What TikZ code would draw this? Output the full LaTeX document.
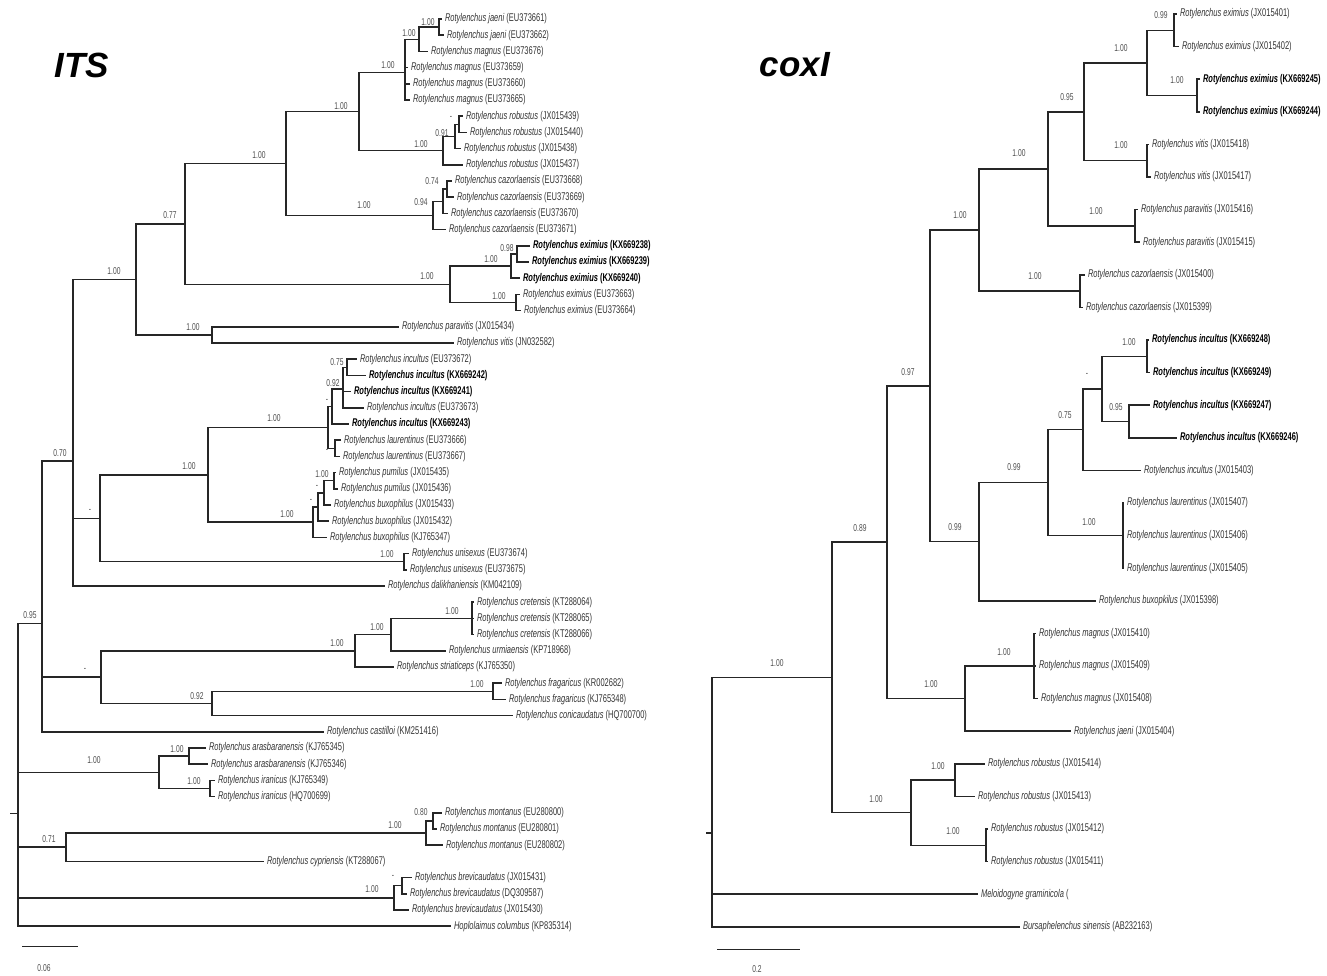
\documentclass[tikz,border=0pt]{standalone}
\usepackage{fontspec}
\setmainfont{Liberation Sans}
\newfontfamily\treefont{Liberation Sans}[FakeStretch=0.67]
\usepackage{tikz}
\def\spc#1#2{\textit{#1} (#2)}
\def\spb#1#2{{\color{black}\bfseries\textit{#1} (#2)}}
\tikzset{
	br/.style={line width=1.5pt, color=black!85},
	lf/.style={anchor=west, inner xsep=3pt, inner ysep=0pt, outer sep=0pt, text=black!80, font=\treefont\fontsize{11.2}{11.2}\selectfont},
	bs/.style={inner sep=0pt, text=black!70, font=\treefont\fontsize{10}{10}\selectfont},
	ttl/.style={font=\bfseries\itshape\fontsize{35}{35}\selectfont},
}

\begin{document}
\begin{tikzpicture}[x=1pt, y=-1pt]
		%%%%% START %%%%%
		\useasboundingbox (0,0) rectangle (1327,976);
		
		\node[ttl] (tits) at (82, 65) {ITS};
		\node[ttl] (tcox) at (795, 65) {coxI};
		
		%%%%% ITS %%%%%
		\coordinate (itick) at (10, 813.4);
		\coordinate (iroot) at (18, 813.4);
		\coordinate (i95) at (42, 623.4);
		\coordinate (i70) at (73, 461.2);
		\coordinate (ia100) at (136, 279.4);
		\coordinate (i77) at (185, 223.9);
		\coordinate (imrc) at (286, 163.5);
		\coordinate (imr) at (359, 111.6);
		\coordinate (imag) at (405, 72.7);
		\coordinate (ijm) at (419, 39.3);
		\coordinate (ija) at (439, 27.1);
		\coordinate (irob) at (443, 150.6);
		\coordinate (irb1) at (455, 136.5);
		\coordinate (irb2) at (459, 124.3);
		\coordinate (icaz) at (433, 215.4);
		\coordinate (icz1) at (443, 201.3);
		\coordinate (icz2) at (447, 189.1);
		\coordinate (iex1) at (450, 284.3);
		\coordinate (iex2) at (511, 266.1);
		\coordinate (iex3) at (517, 253.9);
		\coordinate (iex4) at (516, 302.5);
		\coordinate (ipv) at (212, 334.9);
		\coordinate (idash) at (100, 518.3);
		\coordinate (iib) at (208, 474.8);
		\coordinate (iinc) at (328, 427.4);
		\coordinate (iin1) at (332, 406.5);
		\coordinate (iin2) at (343, 388.9);
		\coordinate (iin3) at (347, 367.3);
		\coordinate (ilau) at (335, 448.3);
		\coordinate (ibux) at (313, 522.2);
		\coordinate (ibx1) at (318, 507);
		\coordinate (ibx2) at (324, 492.9);
		\coordinate (ipum) at (334, 480.7);
		\coordinate (iuni) at (404, 561.7);
		\coordinate (idash2) at (101, 677.1);
		\coordinate (ics) at (355, 650.8);
		\coordinate (icu) at (391, 634.6);
		\coordinate (icre) at (472, 618.4);
		\coordinate (i92) at (212, 703.5);
		\coordinate (ifra) at (493, 691.3);
		\coordinate (iai) at (159, 772.3);
		\coordinate (iar) at (189, 756.1);
		\coordinate (iir) at (210, 788.5);
		\coordinate (i71) at (66, 847.2);
		\coordinate (imo1) at (426, 833.1);
		\coordinate (imo2) at (433, 820.9);
		\coordinate (ibr1) at (394, 897.9);
		\coordinate (ibr2) at (402, 885.7);
		
		\node[lf] (i1) at (442, 19) {\spc{Rotylenchus jaeni}{EU373661}};
		\node[lf] (i2) at (444, 35.2) {\spc{Rotylenchus jaeni}{EU373662}};
		\node[lf] (i3) at (428, 51.4) {\spc{Rotylenchus magnus}{EU373676}};
		\node[lf] (i4) at (408, 67.6) {\spc{Rotylenchus magnus}{EU373659}};
		\node[lf] (i5) at (410, 83.8) {\spc{Rotylenchus magnus}{EU373660}};
		\node[lf] (i6) at (410, 100) {\spc{Rotylenchus magnus}{EU373665}};
		\node[lf] (i7) at (463, 116.2) {\spc{Rotylenchus robustus}{JX015439}};
		\node[lf] (i8) at (467, 132.4) {\spc{Rotylenchus robustus}{JX015440}};
		\node[lf] (i9) at (461, 148.6) {\spc{Rotylenchus robustus}{JX015438}};
		\node[lf] (i10) at (463, 164.8) {\spc{Rotylenchus robustus}{JX015437}};
		\node[lf] (i11) at (452, 181) {\spc{Rotylenchus cazorlaensis}{EU373668}};
		\node[lf] (i12) at (454, 197.2) {\spc{Rotylenchus cazorlaensis}{EU373669}};
		\node[lf] (i13) at (448, 213.4) {\spc{Rotylenchus cazorlaensis}{EU373670}};
		\node[lf] (i14) at (446, 229.6) {\spc{Rotylenchus cazorlaensis}{EU373671}};
		\node[lf] (i15) at (530, 245.8) {\spb{Rotylenchus eximius}{KX669238}};
		\node[lf] (i16) at (529, 262) {\spb{Rotylenchus eximius}{KX669239}};
		\node[lf] (i17) at (520, 278.2) {\spb{Rotylenchus eximius}{KX669240}};
		\node[lf] (i18) at (520, 294.4) {\spc{Rotylenchus eximius}{EU373663}};
		\node[lf] (i19) at (521, 310.6) {\spc{Rotylenchus eximius}{EU373664}};
		\node[lf] (i20) at (399, 326.8) {\spc{Rotylenchus paravitis}{JX015434}};
		\node[lf] (i21) at (454, 343) {\spc{Rotylenchus vitis}{JN032582}};
		\node[lf] (i22) at (357, 359.2) {\spc{Rotylenchus incultus}{EU373672}};
		\node[lf] (i23) at (366, 375.4) {\spb{Rotylenchus incultus}{KX669242}};
		\node[lf] (i24) at (351, 391.6) {\spb{Rotylenchus incultus}{KX669241}};
		\node[lf] (i25) at (364, 407.8) {\spc{Rotylenchus incultus}{EU373673}};
		\node[lf] (i26) at (349, 424) {\spb{Rotylenchus incultus}{KX669243}};
		\node[lf] (i27) at (341, 440.2) {\spc{Rotylenchus laurentinus}{EU373666}};
		\node[lf] (i28) at (340, 456.4) {\spc{Rotylenchus laurentinus}{EU373667}};
		\node[lf] (i29) at (336, 472.6) {\spc{Rotylenchus pumilus}{JX015435}};
		\node[lf] (i30) at (338, 488.8) {\spc{Rotylenchus pumilus}{JX015436}};
		\node[lf] (i31) at (331, 505) {\spc{Rotylenchus buxophilus}{JX015433}};
		\node[lf] (i32) at (329, 521.2) {\spc{Rotylenchus buxophilus}{JX015432}};
		\node[lf] (i33) at (327, 537.4) {\spc{Rotylenchus buxophilus}{KJ765347}};
		\node[lf] (i34) at (409, 553.6) {\spc{Rotylenchus unisexus}{EU373674}};
		\node[lf] (i35) at (407, 569.8) {\spc{Rotylenchus unisexus}{EU373675}};
		\node[lf] (i36) at (385, 586) {\spc{Rotylenchus dalikhaniensis}{KM042109}};
		\node[lf] (i37) at (474, 602.2) {\spc{Rotylenchus cretensis}{KT288064}};
		\node[lf] (i38) at (474, 618.4) {\spc{Rotylenchus cretensis}{KT288065}};
		\node[lf] (i39) at (474, 634.6) {\spc{Rotylenchus cretensis}{KT288066}};
		\node[lf] (i40) at (446, 650.8) {\spc{Rotylenchus urmiaensis}{KP718968}};
		\node[lf] (i41) at (394, 667) {\spc{Rotylenchus striaticeps}{KJ765350}};
		\node[lf] (i42) at (502, 683.2) {\spc{Rotylenchus fragaricus}{KR002682}};
		\node[lf] (i43) at (506, 699.4) {\spc{Rotylenchus fragaricus}{KJ765348}};
		\node[lf] (i44) at (513, 715.6) {\spc{Rotylenchus conicaudatus}{HQ700700}};
		\node[lf] (i45) at (324, 731.8) {\spc{Rotylenchus castilloi}{KM251416}};
		\node[lf] (i46) at (206, 748) {\spc{Rotylenchus arasbaranensis}{KJ765345}};
		\node[lf] (i47) at (208, 764.2) {\spc{Rotylenchus arasbaranensis}{KJ765346}};
		\node[lf] (i48) at (215, 780.4) {\spc{Rotylenchus iranicus}{KJ765349}};
		\node[lf] (i49) at (215, 796.6) {\spc{Rotylenchus iranicus}{HQ700699}};
		\node[lf] (i50) at (442, 812.8) {\spc{Rotylenchus montanus}{EU280800}};
		\node[lf] (i51) at (437, 829) {\spc{Rotylenchus montanus}{EU280801}};
		\node[lf] (i52) at (443, 845.2) {\spc{Rotylenchus montanus}{EU280802}};
		\node[lf] (i53) at (264, 861.4) {\spc{Rotylenchus cypriensis}{KT288067}};
		\node[lf] (i54) at (412, 877.6) {\spc{Rotylenchus brevicaudatus}{JX015431}};
		\node[lf] (i55) at (407, 893.8) {\spc{Rotylenchus brevicaudatus}{DQ309587}};
		\node[lf] (i56) at (409, 910) {\spc{Rotylenchus brevicaudatus}{JX015430}};
		\node[lf] (i57) at (451, 926.2) {\spc{Hoplolaimus columbus}{KP835314}};
		
		\draw[br] (itick) -- (iroot);
		\draw[br] (iroot) |- (i95) (iroot) |- (iai) (iroot) |- (i71) (iroot) |- (ibr1) (iroot) |- (i57.west);
		\draw[br] (i95) |- (i70) (i95) |- (idash2) (i95) |- (i45.west);
		\draw[br] (i70) |- (ia100) (i70) |- (idash) (i70) |- (i36.west);
		\draw[br] (ia100) |- (i77) (ia100) |- (ipv);
		\draw[br] (i77) |- (imrc) (i77) |- (iex1);
		\draw[br] (imrc) |- (imr) (imrc) |- (icaz);
		\draw[br] (imr) |- (imag) (imr) |- (irob);
		\draw[br] (imag) |- (ijm) (imag) |- (i4.west) (imag) |- (i5.west) (imag) |- (i6.west);
		\draw[br] (ijm) |- (ija) (ijm) |- (i3.west);
		\draw[br] (ija) |- (i1.west) (ija) |- (i2.west);
		\draw[br] (irob) |- (irb1) (irob) |- (i10.west);
		\draw[br] (irb1) |- (irb2) (irb1) |- (i9.west);
		\draw[br] (irb2) |- (i7.west) (irb2) |- (i8.west);
		\draw[br] (icaz) |- (icz1) (icaz) |- (i14.west);
		\draw[br] (icz1) |- (icz2) (icz1) |- (i13.west);
		\draw[br] (icz2) |- (i11.west) (icz2) |- (i12.west);
		\draw[br] (iex1) |- (iex2) (iex1) |- (iex4);
		\draw[br] (iex2) |- (iex3) (iex2) |- (i17.west);
		\draw[br] (iex3) |- (i15.west) (iex3) |- (i16.west);
		\draw[br] (iex4) |- (i18.west) (iex4) |- (i19.west);
		\draw[br] (ipv) |- (i20.west) (ipv) |- (i21.west);
		\draw[br] (idash) |- (iib) (idash) |- (iuni);
		\draw[br] (iib) |- (iinc) (iib) |- (ibux);
		\draw[br] (iinc) |- (iin1) (iinc) |- (ilau);
		\draw[br] (iin1) |- (iin2) (iin1) |- (i26.west);
		\draw[br] (iin2) |- (iin3) (iin2) |- (i24.west) (iin2) |- (i25.west);
		\draw[br] (iin3) |- (i22.west) (iin3) |- (i23.west);
		\draw[br] (ilau) |- (i27.west) (ilau) |- (i28.west);
		\draw[br] (ibux) |- (ibx1) (ibux) |- (i33.west);
		\draw[br] (ibx1) |- (ibx2) (ibx1) |- (i32.west);
		\draw[br] (ibx2) |- (ipum) (ibx2) |- (i31.west);
		\draw[br] (ipum) |- (i29.west) (ipum) |- (i30.west);
		\draw[br] (iuni) |- (i34.west) (iuni) |- (i35.west);
		\draw[br] (idash2) |- (ics) (idash2) |- (i92);
		\draw[br] (ics) |- (icu) (ics) |- (i41.west);
		\draw[br] (icu) |- (icre) (icu) |- (i40.west);
		\draw[br] (icre) |- (i37.west) (icre) |- (i38.west) (icre) |- (i39.west);
		\draw[br] (i92) |- (ifra) (i92) |- (i44.west);
		\draw[br] (ifra) |- (i42.west) (ifra) |- (i43.west);
		\draw[br] (iai) |- (iar) (iai) |- (iir);
		\draw[br] (iar) |- (i46.west) (iar) |- (i47.west);
		\draw[br] (iir) |- (i48.west) (iir) |- (i49.west);
		\draw[br] (i71) |- (imo1) (i71) |- (i53.west);
		\draw[br] (imo1) |- (imo2) (imo1) |- (i52.west);
		\draw[br] (imo2) |- (i50.west) (imo2) |- (i51.west);
		\draw[br] (ibr1) |- (ibr2) (ibr1) |- (i56.west);
		\draw[br] (ibr2) |- (i54.west) (ibr2) |- (i55.west);
		
		\node[bs] (sija) at (428, 22) {1.00};
		\node[bs] (sijm) at (409, 33) {1.00};
		\node[bs] (simag) at (388, 65) {1.00};
		\node[bs] (sirb2) at (451, 118) {-};
		\node[bs] (sirb1) at (442, 133) {0.91};
		\node[bs] (sirob) at (421, 144) {1.00};
		\node[bs] (simr) at (341, 106) {1.00};
		\node[bs] (sicz2) at (432, 181) {0.74};
		\node[bs] (sicz1) at (421, 202) {0.94};
		\node[bs] (sicaz) at (364, 205) {1.00};
		\node[bs] (simrc) at (259, 155) {1.00};
		\node[bs] (siex3) at (507, 248) {0.98};
		\node[bs] (siex2) at (491, 259) {1.00};
		\node[bs] (siex4) at (499, 296) {1.00};
		\node[bs] (siex1) at (427, 276) {1.00};
		\node[bs] (si77) at (170, 215) {0.77};
		\node[bs] (sipv) at (193, 327) {1.00};
		\node[bs] (sia100) at (114, 271) {1.00};
		\node[bs] (siin3) at (337, 362) {0.75};
		\node[bs] (siin2) at (333, 383) {0.92};
		\node[bs] (siin1) at (327, 401) {-};
		\node[bs] (silau) at (327, 451) {-};
		\node[bs] (siinc) at (274, 418) {1.00};
		\node[bs] (sipum) at (322, 474) {1.00};
		\node[bs] (sibx2) at (317, 487) {-};
		\node[bs] (sibx1) at (311, 501) {-};
		\node[bs] (sibux) at (287, 514) {1.00};
		\node[bs] (siib) at (189, 466) {1.00};
		\node[bs] (siuni) at (387, 554) {1.00};
		\node[bs] (sidash) at (90, 511) {-};
		\node[bs] (si70) at (60, 453) {0.70};
		\node[bs] (sicre) at (452, 611) {1.00};
		\node[bs] (sicu) at (377, 627) {1.00};
		\node[bs] (sics) at (337, 643) {1.00};
		\node[bs] (sifra) at (477, 684) {1.00};
		\node[bs] (si92) at (197, 696) {0.92};
		\node[bs] (sidash2) at (85, 670) {-};
		\node[bs] (si95) at (30, 615) {0.95};
		\node[bs] (siar) at (177, 749) {1.00};
		\node[bs] (siir) at (194, 781) {1.00};
		\node[bs] (siai) at (94, 760) {1.00};
		\node[bs] (simo2) at (421, 812) {0.80};
		\node[bs] (simo1) at (395, 825) {1.00};
		\node[bs] (si71) at (49, 839) {0.71};
		\node[bs] (sibr2) at (393, 877) {-};
		\node[bs] (sibr1) at (372, 889) {1.00};
		
		\coordinate (isa) at (22, 946);
		\coordinate (isb) at (78, 946);
		\draw[line width=1pt, color=black!85] (isa) -- (isb);
		\node[bs] (iscale) at (44, 968) {0.06};
		
		%%%%% COXI %%%%%
		\coordinate (ctick) at (706, 832.8);
		\coordinate (croot) at (712, 832.8);
		\coordinate (c100) at (832, 677.5);
		\coordinate (c89) at (887, 542.2);
		\coordinate (c97) at (930, 385.8);
		\coordinate (c100b) at (979, 230);
		\coordinate (c100a) at (1048, 168.9);
		\coordinate (c95) at (1084, 111.8);
		\coordinate (cex) at (1147, 62.9);
		\coordinate (cex1) at (1174, 30.3);
		\coordinate (cex2) at (1197, 95.5);
		\coordinate (cvi) at (1147, 160.7);
		\coordinate (cpa) at (1135, 225.9);
		\coordinate (ccz) at (1080, 291.1);
		\coordinate (c99b) at (979, 541.7);
		\coordinate (c99a) at (1048, 482.6);
		\coordinate (cin1) at (1083, 429.7);
		\coordinate (cin2) at (1102, 388.9);
		\coordinate (cin3) at (1147, 356.3);
		\coordinate (cin4) at (1129, 421.5);
		\coordinate (clau) at (1123, 535.6);
		\coordinate (cmj) at (965, 698.6);
		\coordinate (cma) at (1034, 666);
		\coordinate (crob) at (911, 812.7);
		\coordinate (crb1) at (955, 780.1);
		\coordinate (crb2) at (986, 845.3);
		
		\node[lf] (c1) at (1177, 14) {\spc{Rotylenchus eximius}{JX015401}};
		\node[lf] (c2) at (1179, 46.6) {\spc{Rotylenchus eximius}{JX015402}};
		\node[lf] (c3) at (1200, 79.2) {\spb{Rotylenchus eximius}{KX669245}};
		\node[lf] (c4) at (1200, 111.8) {\spb{Rotylenchus eximius}{KX669244}};
		\node[lf] (c5) at (1149, 144.4) {\spc{Rotylenchus vitis}{JX015418}};
		\node[lf] (c6) at (1151, 177) {\spc{Rotylenchus vitis}{JX015417}};
		\node[lf] (c7) at (1138, 209.6) {\spc{Rotylenchus paravitis}{JX015416}};
		\node[lf] (c8) at (1140, 242.2) {\spc{Rotylenchus paravitis}{JX015415}};
		\node[lf] (c9) at (1085, 274.8) {\spc{Rotylenchus cazorlaensis}{JX015400}};
		\node[lf] (c10) at (1083, 307.4) {\spc{Rotylenchus cazorlaensis}{JX015399}};
		\node[lf] (c11) at (1149, 340) {\spb{Rotylenchus incultus}{KX669248}};
		\node[lf] (c12) at (1150, 372.6) {\spb{Rotylenchus incultus}{KX669249}};
		\node[lf] (c13) at (1150, 405.2) {\spb{Rotylenchus incultus}{KX669247}};
		\node[lf] (c14) at (1177, 437.8) {\spb{Rotylenchus incultus}{KX669246}};
		\node[lf] (c15) at (1141, 470.4) {\spc{Rotylenchus incultus}{JX015403}};
		\node[lf] (c16) at (1124, 503) {\spc{Rotylenchus laurentinus}{JX015407}};
		\node[lf] (c17) at (1124, 535.6) {\spc{Rotylenchus laurentinus}{JX015406}};
		\node[lf] (c18) at (1124, 568.2) {\spc{Rotylenchus laurentinus}{JX015405}};
		\node[lf] (c19) at (1096, 600.8) {\spc{Rotylenchus buxopkilus}{JX015398}};
		\node[lf] (c20) at (1036, 633.4) {\spc{Rotylenchus magnus}{JX015410}};
		\node[lf] (c21) at (1036, 666) {\spc{Rotylenchus magnus}{JX015409}};
		\node[lf] (c22) at (1038, 698.6) {\spc{Rotylenchus magnus}{JX015408}};
		\node[lf] (c23) at (1071, 731.2) {\spc{Rotylenchus jaeni}{JX015404}};
		\node[lf] (c24) at (985, 763.8) {\spc{Rotylenchus robustus}{JX015414}};
		\node[lf] (c25) at (975, 796.4) {\spc{Rotylenchus robustus}{JX015413}};
		\node[lf] (c26) at (988, 829) {\spc{Rotylenchus robustus}{JX015412}};
		\node[lf] (c27) at (988, 861.6) {\spc{Rotylenchus robustus}{JX015411}};
		\node[lf] (c28) at (978, 894.2) {\textit{Meloidogyne graminicola} (};
		\node[lf] (c29) at (1020, 926.8) {\spc{Bursaphelenchus sinensis}{AB232163}};
		
		\draw[br] (ctick) -- (croot);
		\draw[br] (croot) |- (c100) (croot) |- (c28.west) (croot) |- (c29.west);
		\draw[br] (c100) |- (c89) (c100) |- (crob);
		\draw[br] (c89) |- (c97) (c89) |- (cmj);
		\draw[br] (c97) |- (c100b) (c97) |- (c99b);
		\draw[br] (c100b) |- (c100a) (c100b) |- (ccz);
		\draw[br] (c100a) |- (c95) (c100a) |- (cpa);
		\draw[br] (c95) |- (cex) (c95) |- (cvi);
		\draw[br] (cex) |- (cex1) (cex) |- (cex2);
		\draw[br] (cex1) |- (c1.west) (cex1) |- (c2.west);
		\draw[br] (cex2) |- (c3.west) (cex2) |- (c4.west);
		\draw[br] (cvi) |- (c5.west) (cvi) |- (c6.west);
		\draw[br] (cpa) |- (c7.west) (cpa) |- (c8.west);
		\draw[br] (ccz) |- (c9.west) (ccz) |- (c10.west);
		\draw[br] (c99b) |- (c99a) (c99b) |- (c19.west);
		\draw[br] (c99a) |- (cin1) (c99a) |- (clau);
		\draw[br] (cin1) |- (cin2) (cin1) |- (c15.west);
		\draw[br] (cin2) |- (cin3) (cin2) |- (cin4);
		\draw[br] (cin3) |- (c11.west) (cin3) |- (c12.west);
		\draw[br] (cin4) |- (c13.west) (cin4) |- (c14.west);
		\draw[br] (clau) |- (c16.west) (clau) |- (c17.west) (clau) |- (c18.west);
		\draw[br] (cmj) |- (cma) (cmj) |- (c23.west);
		\draw[br] (cma) |- (c20.west) (cma) |- (c21.west) (cma) |- (c22.west);
		\draw[br] (crob) |- (crb1) (crob) |- (crb2);
		\draw[br] (crb1) |- (c24.west) (crb1) |- (c25.west);
		\draw[br] (crb2) |- (c26.west) (crb2) |- (c27.west);
		
		\node[bs] (scex1) at (1161, 15) {0.99};
		\node[bs] (scex2) at (1177, 80) {1.00};
		\node[bs] (scex) at (1121, 48) {1.00};
		\node[bs] (scvi) at (1121, 145) {1.00};
		\node[bs] (sc95) at (1067, 97) {0.95};
		\node[bs] (scpa) at (1096, 211) {1.00};
		\node[bs] (sc100a) at (1019, 153) {1.00};
		\node[bs] (sccz) at (1035, 276) {1.00};
		\node[bs] (sc100b) at (960, 215) {1.00};
		\node[bs] (scin3) at (1129, 342) {1.00};
		\node[bs] (scin4) at (1116, 407) {0.95};
		\node[bs] (scin2) at (1087, 375) {-};
		\node[bs] (scin1) at (1065, 415) {0.75};
		\node[bs] (sclau) at (1089, 522) {1.00};
		\node[bs] (sc99a) at (1014, 467) {0.99};
		\node[bs] (sc99b) at (955, 527) {0.99};
		\node[bs] (sc97) at (908, 372) {0.97};
		\node[bs] (scma) at (1004, 652) {1.00};
		\node[bs] (scmj) at (931, 684) {1.00};
		\node[bs] (sc89) at (860, 528) {0.89};
		\node[bs] (scrb1) at (938, 766) {1.00};
		\node[bs] (scrb2) at (953, 831) {1.00};
		\node[bs] (scrob) at (876, 799) {1.00};
		\node[bs] (sc100) at (777, 663) {1.00};
		
		\coordinate (csa) at (717, 949);
		\coordinate (csb) at (800, 949);
		\draw[line width=1pt, color=black!85] (csa) -- (csb);
		\node[bs] (cscale) at (757, 969) {0.2};
		
		%%%%% END %%%%%
\end{tikzpicture}
\end{document}
